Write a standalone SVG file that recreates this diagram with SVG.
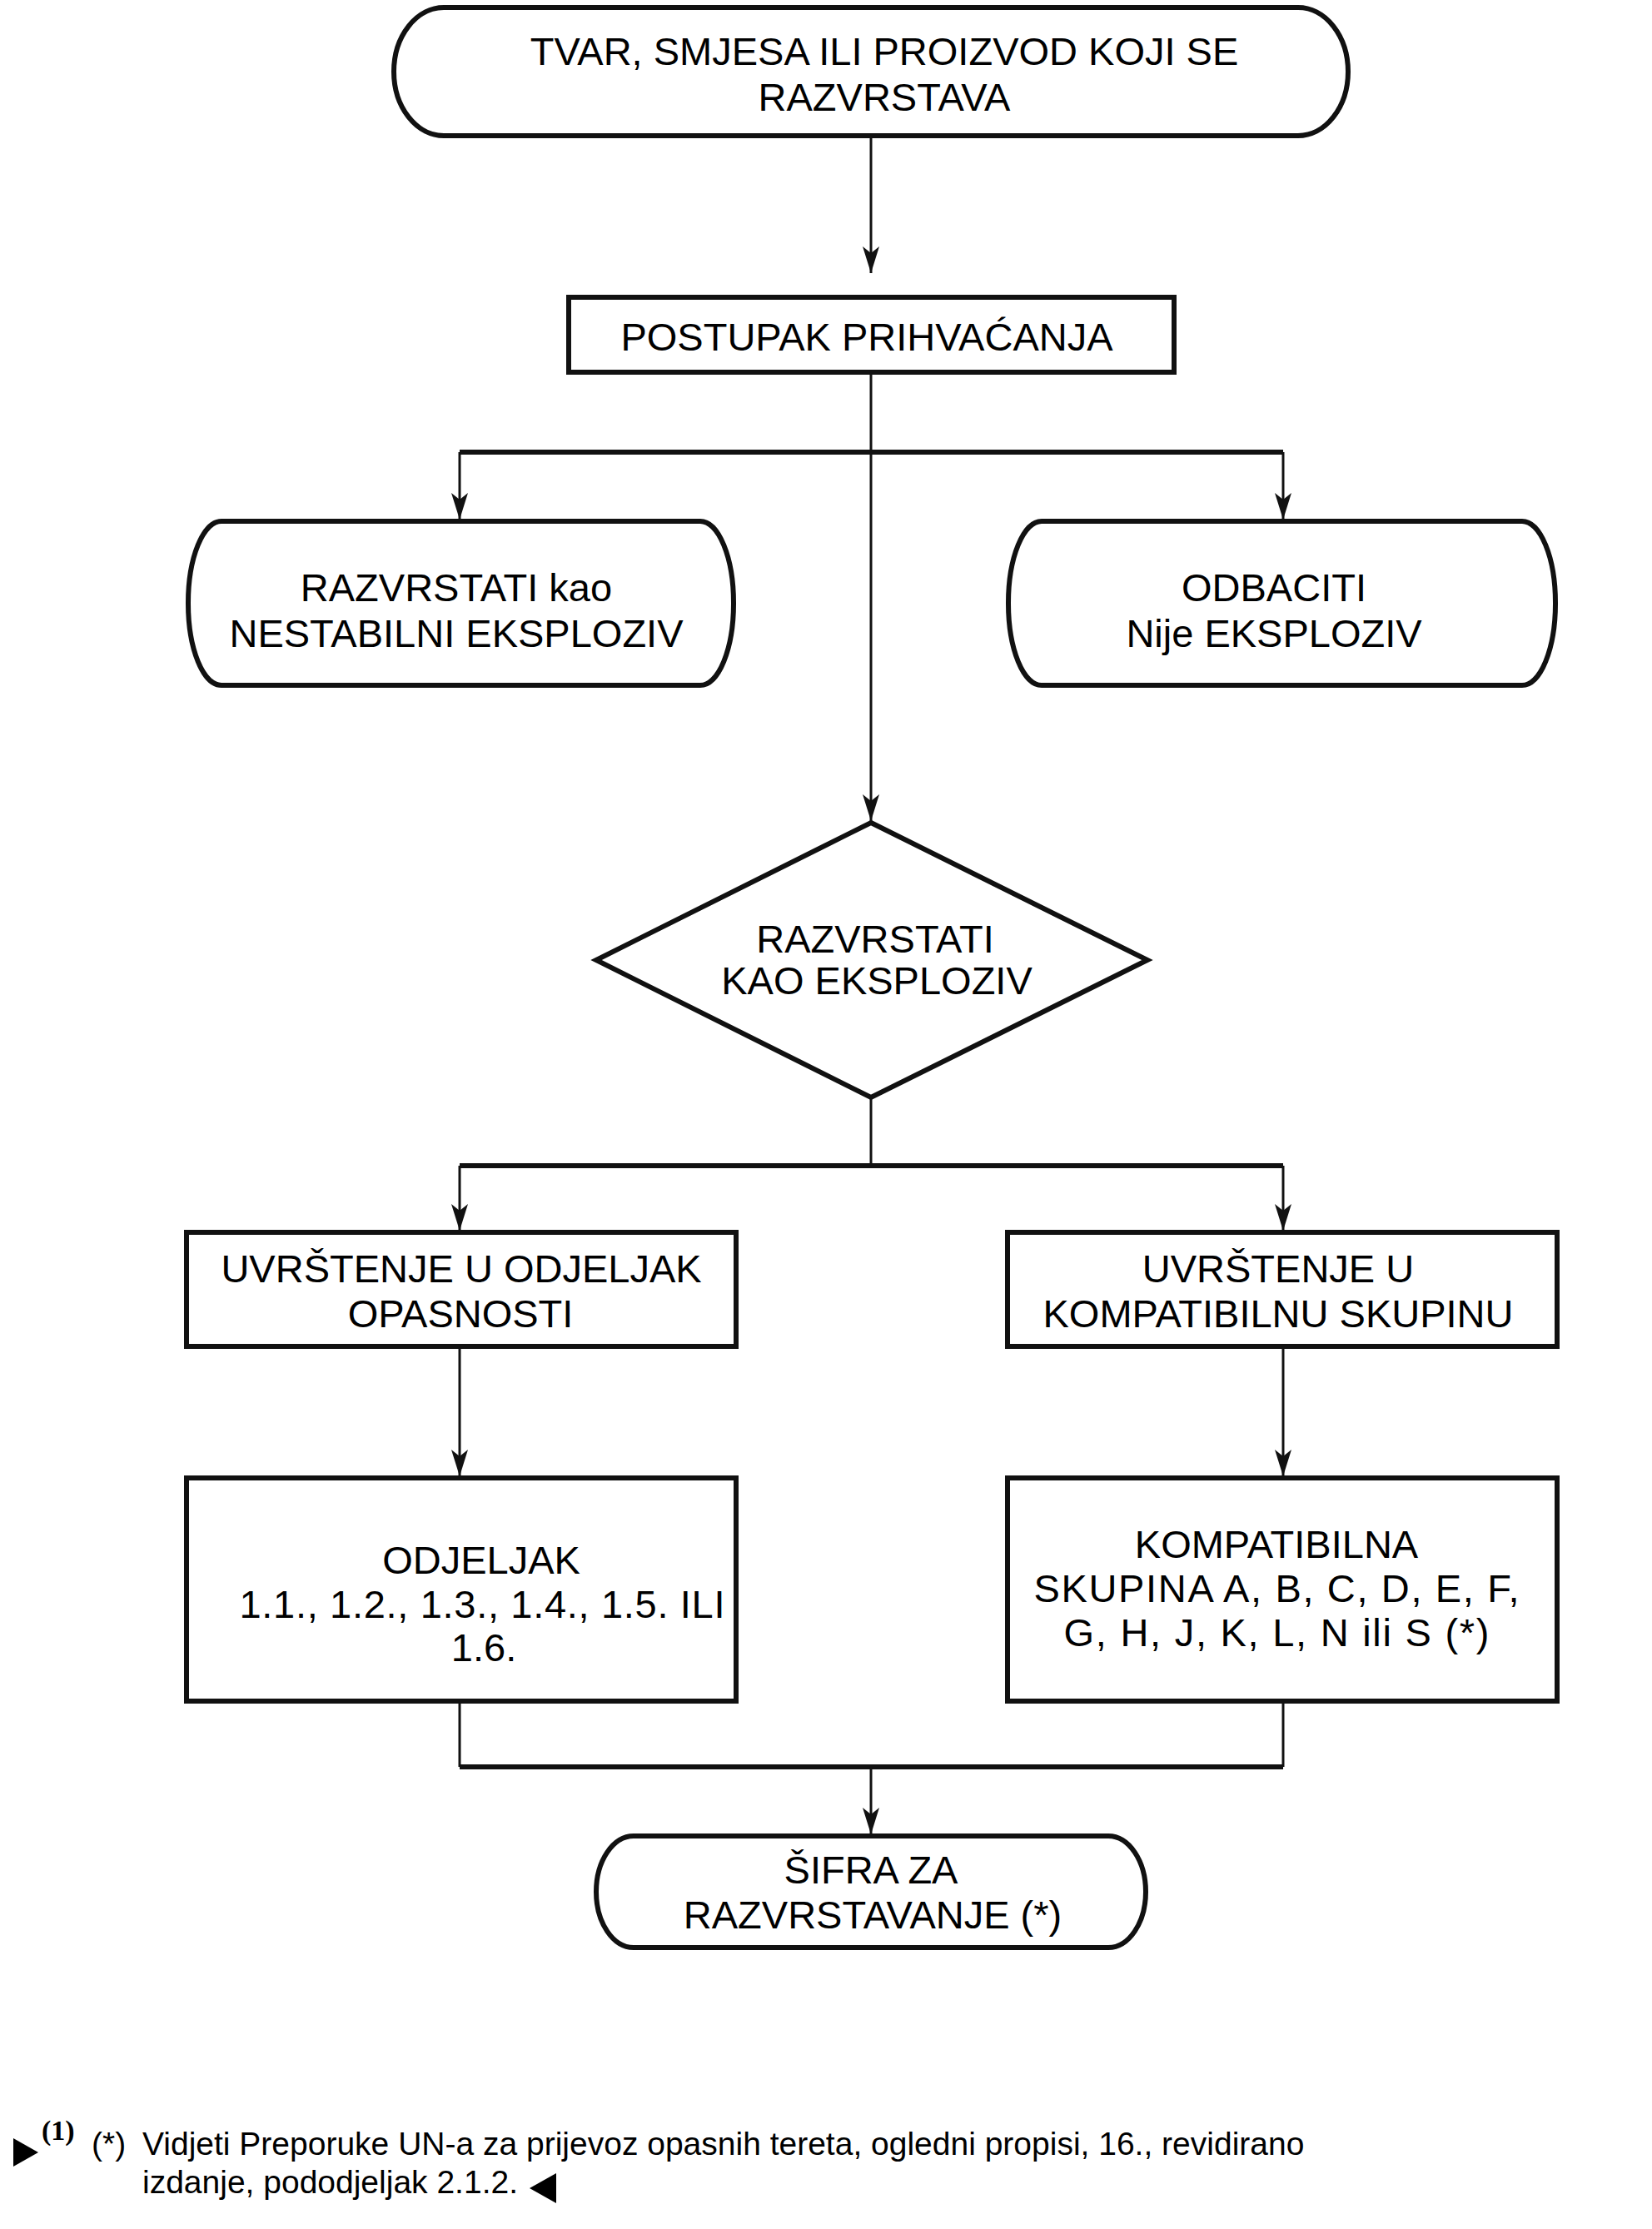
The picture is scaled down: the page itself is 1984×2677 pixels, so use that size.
<svg xmlns="http://www.w3.org/2000/svg" width="1984" height="2677" viewBox="0 0 1984 2677">
<style>
.shape{fill:#fff;stroke:#111;stroke-width:6}
.t{font-family:"Liberation Sans",Arial,sans-serif;font-size:47px;fill:#000;text-anchor:middle}
.fn{font-family:"Liberation Sans",Arial,sans-serif;font-size:39px;fill:#000}
.c{fill:none;stroke:#111;stroke-width:3}
.h{fill:none;stroke:#111;stroke-width:6}
</style>
<defs>
<marker id="arr" viewBox="0 0 32 22" refX="32" refY="11" markerWidth="32" markerHeight="22" markerUnits="userSpaceOnUse" orient="auto">
<path d="M0,1 L32,11 L0,21 L8,11 z" fill="#111"/>
</marker>
</defs>
<rect width="1984" height="2677" fill="#fff"/>

<g id="connectors">
<path class="c" d="M1046,163 V328" marker-end="url(#arr)"/>
<path class="c" d="M1046,447 V986" marker-end="url(#arr)"/>
<path class="h" d="M552,543 H1541"/>
<path class="c" d="M552,543 V624" marker-end="url(#arr)"/>
<path class="c" d="M1541,543 V624" marker-end="url(#arr)"/>
<path class="c" d="M1046,1318 V1400"/>
<path class="h" d="M552,1400 H1541"/>
<path class="c" d="M552,1400 V1478" marker-end="url(#arr)"/>
<path class="c" d="M1541,1400 V1478" marker-end="url(#arr)"/>
<path class="c" d="M552,1617 V1773" marker-end="url(#arr)"/>
<path class="c" d="M1541,1617 V1773" marker-end="url(#arr)"/>
<path class="c" d="M552,2043 V2122"/>
<path class="c" d="M1541,2043 V2122"/>
<path class="h" d="M552,2122 H1541"/>
<path class="c" d="M1046,2122 V2203" marker-end="url(#arr)"/>
</g>

<g id="start">
<rect class="shape" x="473" y="9" width="1146" height="154" rx="60" ry="77"/>
<text class="t" x="1062" y="78">TVAR, SMJESA ILI PROIZVOD KOJI SE</text>
<text class="t" x="1062" y="133">RAZVRSTAVA</text>
</g>

<g id="postupak">
<rect class="shape" x="683" y="357" width="727" height="90"/>
<text class="t" x="1041" y="421">POSTUPAK PRIHVAĆANJA</text>
</g>

<g id="nestabilni">
<rect class="shape" x="226" y="626" width="655" height="197" rx="40" ry="98"/>
<text class="t" x="548" y="722">RAZVRSTATI kao</text>
<text class="t" x="548" y="777">NESTABILNI EKSPLOZIV</text>
</g>

<g id="odbaciti">
<rect class="shape" x="1211" y="626" width="657" height="197" rx="40" ry="98"/>
<text class="t" x="1530" y="722">ODBACITI</text>
<text class="t" x="1530" y="777">Nije EKSPLOZIV</text>
</g>

<g id="eksploziv">
<polygon class="shape" points="1046,988 1378,1153 1046,1318 716,1153"/>
<text class="t" x="1051" y="1144">RAZVRSTATI</text>
<text class="t" x="1053" y="1194">KAO EKSPLOZIV</text>
</g>

<g id="odjeljak-opasnosti">
<rect class="shape" x="224" y="1480" width="660" height="137"/>
<text class="t" x="554" y="1540">UVRŠTENJE U ODJELJAK</text>
<text class="t" x="553" y="1594">OPASNOSTI</text>
</g>

<g id="kompatibilna-skupina">
<rect class="shape" x="1210" y="1480" width="660" height="137"/>
<text class="t" x="1535" y="1540">UVRŠTENJE U</text>
<text class="t" x="1535" y="1594">KOMPATIBILNU SKUPINU</text>
</g>

<g id="odjeljak">
<rect class="shape" x="224" y="1775" width="660" height="268"/>
<text class="t" x="578" y="1890">ODJELJAK</text>
<text class="t" x="579" y="1943" textLength="583" lengthAdjust="spacing">1.1., 1.2., 1.3., 1.4., 1.5. ILI</text>
<text class="t" x="581" y="1995">1.6.</text>
</g>

<g id="kompatibilna">
<rect class="shape" x="1210" y="1775" width="660" height="268"/>
<text class="t" x="1533" y="1871">KOMPATIBILNA</text>
<text class="t" x="1533" y="1924" textLength="583" lengthAdjust="spacing">SKUPINA A, B, C, D, E, F,</text>
<text class="t" x="1533" y="1977" textLength="511" lengthAdjust="spacing">G, H, J, K, L, N ili S (*)</text>
</g>

<g id="sifra">
<rect class="shape" x="716" y="2205" width="660" height="134" rx="45" ry="67"/>
<text class="t" x="1046" y="2262">ŠIFRA ZA</text>
<text class="t" x="1048" y="2316">RAZVRSTAVANJE (*)</text>
</g>

<g id="footnote">
<polygon points="16,2568 46,2585 16,2602" fill="#000"/>
<text x="50" y="2570" font-family="'Liberation Serif','Times New Roman',serif" font-weight="bold" font-size="34">(1)</text>
<text class="fn" x="110" y="2588">(*)</text>
<text class="fn" x="171" y="2588">Vidjeti Preporuke UN-a za prijevoz opasnih tereta, ogledni propisi, 16., revidirano</text>
<text class="fn" x="171" y="2634">izdanje, pododjeljak 2.1.2.</text>
<polygon points="668,2610 636,2628 668,2646" fill="#000"/>
</g>
</svg>
